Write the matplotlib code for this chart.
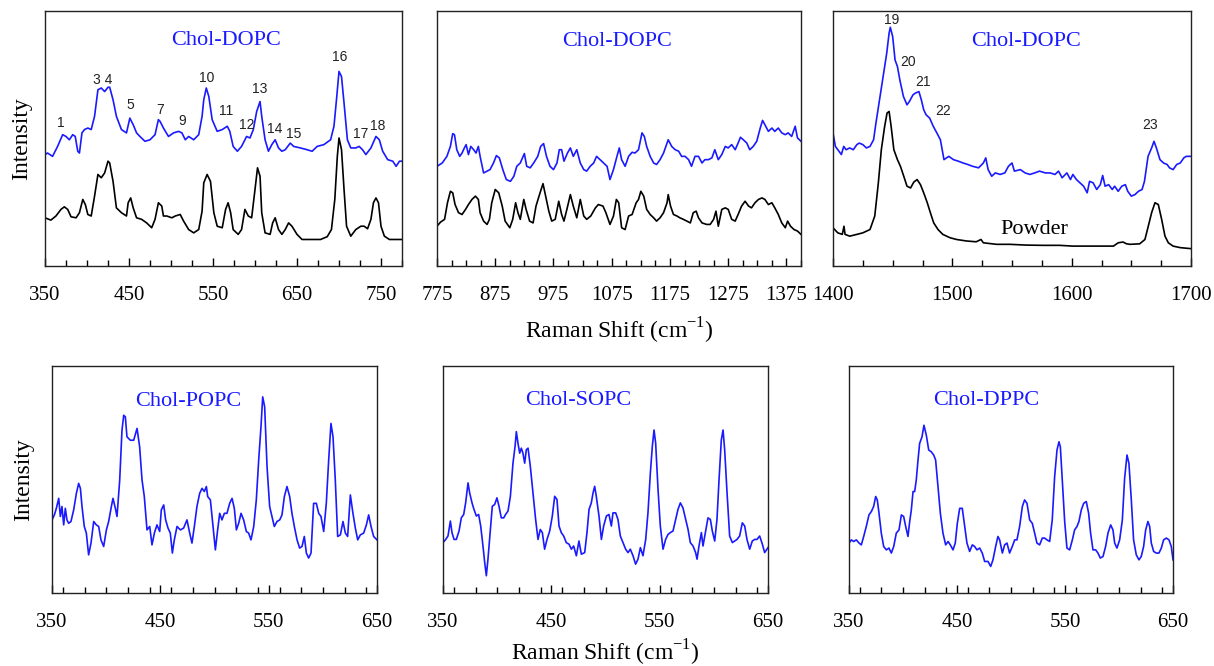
import matplotlib
matplotlib.use("Agg")
import matplotlib.pyplot as plt
from matplotlib.ticker import FixedLocator, MultipleLocator

# ---------------- data (intensity in arbitrary units, 0-100 per panel) ----------------
# Panel 1: Chol-DOPC (blue) and powder (black), 350-775 cm-1
p1_blue_x = [350, 353, 359, 365, 371, 375, 379, 383, 386, 389, 391, 394, 397, 401, 405, 409, 413, 417, 421, 425,
             427, 431, 435, 441, 447, 451, 455, 459, 463, 469, 475, 481, 485, 487, 491, 497, 503, 509, 513, 517,
             521, 527, 533, 537, 539, 542, 545, 549, 555, 561, 567, 570, 574, 579, 584, 590, 594, 598, 602, 606,
             608, 612, 616, 620, 624, 628, 632, 636, 642, 646, 654, 662, 668, 674, 682, 690, 694, 697, 700, 703,
             706, 710, 714, 720, 724, 728, 732, 738, 744, 748, 752, 758, 764, 768, 772, 775]
p1_blue_y = [43.7, 44.3, 43.0, 46.9, 51.5, 50.8, 49.5, 51.5, 50.8, 45.0, 44.3, 52.2, 53.5, 54.1, 53.5, 58.7, 69.1, 69.8, 68.4, 70.1,
             70.1, 65.2, 58.7, 53.5, 52.2, 58.0, 55.4, 52.2, 50.8, 48.9, 49.5, 51.5, 57.4, 56.7, 54.1, 50.8, 52.2, 52.8, 52.2, 49.5,
             50.8, 49.5, 51.5, 58.7, 65.2, 69.8, 66.5, 57.4, 52.8, 53.5, 54.8, 52.8, 46.9, 45.0, 46.9, 50.8, 50.2, 53.5, 60.6, 64.5,
             58.7, 49.5, 45.0, 47.6, 49.5, 46.3, 45.0, 45.6, 48.2, 46.9, 46.3, 45.6, 45.0, 46.9, 47.6, 49.5, 54.8, 65.2, 76.3, 74.3,
             63.9, 49.5, 46.3, 46.3, 46.9, 45.6, 43.7, 46.3, 50.8, 49.5, 45.0, 41.7, 41.1, 39.1, 41.1, 41.1]

p1_black_x = [350, 357, 363, 369, 373, 377, 381, 387, 391, 395, 398, 401, 405, 409, 413, 417, 421, 425, 427, 431,
              435, 441, 447, 449, 452, 455, 459, 465, 471, 477, 481, 485, 489, 491, 495, 501, 505, 511, 515, 521,
              527, 533, 537, 539, 543, 547, 551, 555, 561, 565, 568, 571, 574, 580, 584, 588, 592, 596, 600, 603,
              606, 608, 612, 618, 621, 624, 628, 632, 636, 640, 644, 650, 656, 666, 678, 686, 691, 695, 698, 700,
              703, 706, 709, 714, 720, 726, 730, 734, 738, 741, 744, 747, 750, 754, 760, 775]
p1_black_y = [18.9, 18.0, 19.6, 22.2, 23.2, 22.2, 19.3, 18.9, 20.9, 26.1, 24.1, 20.2, 19.6, 27.4, 35.9, 34.6, 36.5, 41.1, 40.4, 33.2,
              22.8, 20.9, 19.6, 24.8, 26.7, 22.8, 18.9, 18.3, 16.9, 15.0, 18.3, 24.8, 23.5, 19.6, 19.6, 18.9, 19.6, 20.2, 17.6, 14.3,
              13.0, 14.3, 21.5, 32.6, 35.9, 33.2, 20.9, 15.6, 15.0, 22.2, 24.8, 20.9, 14.3, 12.4, 14.3, 22.2, 19.6, 18.9, 30.0, 38.5,
              35.2, 20.9, 13.0, 12.4, 16.9, 18.9, 14.3, 12.4, 14.3, 16.9, 15.6, 12.4, 10.4, 10.4, 10.4, 11.5, 14.3, 26.1, 43.0, 50.2,
              45.6, 30.0, 15.6, 11.7, 14.3, 15.6, 15.6, 14.6, 18.3, 24.8, 26.7, 24.8, 15.6, 11.7, 10.4, 10.4]

p1_labels = ["1", "3 4", "5", "7", "9", "10", "11", "12", "13", "14", "15", "16", "17", "18"]
p1_label_x = [369, 419, 452, 487, 513, 543, 566, 590, 605, 623, 646, 701, 726, 746]
p1_label_y = [56.1, 73.0, 63.2, 61.3, 56.7, 73.7, 60.9, 55.1, 69.4, 53.8, 51.8, 81.9, 51.8, 54.8]

# Panel 2: 775-1400 cm-1
p2_blue_x = [775, 784, 792, 798, 802, 805, 809, 814, 818, 822, 825, 829, 833, 838, 842, 846, 849, 855, 861, 866,
             872, 877, 882, 888, 894, 901, 907, 912, 918, 925, 929, 935, 941, 948, 953, 958, 963, 969, 975, 981,
             985, 989, 993, 999, 1004, 1009, 1015, 1021, 1027, 1032, 1038, 1044, 1049, 1055, 1061, 1067, 1072, 1078, 1084, 1088,
             1092, 1098, 1104, 1110, 1115, 1121, 1127, 1131, 1135, 1141, 1147, 1152, 1158, 1164, 1172, 1178, 1184, 1190, 1195, 1201,
             1207, 1212, 1218, 1224, 1230, 1235, 1241, 1247, 1252, 1258, 1264, 1270, 1275, 1281, 1287, 1292, 1296, 1301, 1307, 1312,
             1318, 1324, 1330, 1334, 1338, 1344, 1350, 1355, 1361, 1367, 1373, 1378, 1384, 1390, 1394, 1400]
p2_blue_y = [39.1, 40.4, 43.0, 46.9, 51.9, 51.5, 45.6, 43.0, 44.3, 46.3, 47.6, 43.7, 46.9, 45.6, 44.3, 46.9, 43.0, 36.5, 37.2, 37.8,
             40.4, 43.3, 42.4, 37.8, 33.9, 33.2, 35.2, 39.1, 40.4, 44.1, 39.1, 38.5, 40.4, 43.0, 46.9, 48.0, 43.0, 39.1, 37.8, 40.4,
             45.6, 45.6, 41.1, 44.3, 46.3, 43.0, 45.6, 40.4, 37.8, 37.2, 39.1, 40.4, 43.0, 41.7, 40.4, 39.1, 33.9, 37.8, 43.0, 46.3,
             41.7, 39.1, 43.0, 44.6, 44.3, 45.6, 52.2, 50.8, 46.9, 43.0, 40.4, 39.8, 41.7, 44.3, 49.5, 46.9, 45.6, 45.0, 43.0, 43.0,
             41.7, 39.1, 43.0, 43.0, 40.4, 41.7, 41.7, 42.4, 45.6, 41.7, 43.7, 46.9, 46.3, 47.6, 45.6, 48.2, 50.5, 49.5, 48.2, 45.6,
             46.9, 48.9, 54.1, 57.1, 55.4, 52.8, 54.1, 52.8, 54.1, 52.2, 51.5, 52.2, 50.8, 54.8, 50.2, 48.9]

p2_black_x = [775, 781, 788, 793, 798, 802, 806, 812, 818, 824, 829, 835, 841, 846, 849, 855, 861, 865, 869, 875,
              881, 887, 892, 900, 905, 910, 914, 918, 924, 928, 934, 940, 945, 951, 957, 961, 967, 972, 978, 984,
              989, 993, 998, 1004, 1009, 1015, 1021, 1027, 1032, 1039, 1047, 1052, 1060, 1065, 1072, 1078, 1083, 1087, 1092, 1098,
              1104, 1110, 1117, 1121, 1125, 1130, 1135, 1141, 1147, 1152, 1158, 1164, 1170, 1172, 1176, 1181, 1187, 1192, 1198, 1204,
              1210, 1215, 1220, 1224, 1230, 1238, 1244, 1250, 1254, 1258, 1264, 1270, 1275, 1281, 1287, 1292, 1298, 1304, 1310, 1315,
              1321, 1327, 1333, 1338, 1344, 1350, 1355, 1361, 1367, 1373, 1377, 1382, 1388, 1394, 1400]
p2_black_y = [15.6, 17.2, 18.3, 24.8, 29.3, 28.7, 24.1, 20.9, 20.2, 22.2, 24.1, 26.1, 27.4, 26.1, 20.9, 17.6, 16.3, 18.3, 24.8, 30.0,
              28.7, 23.5, 17.6, 15.0, 18.3, 24.8, 20.9, 18.3, 26.1, 22.2, 17.6, 16.9, 23.5, 28.0, 32.3, 28.0, 21.5, 17.6, 18.3, 25.4,
              20.2, 17.6, 22.2, 28.0, 23.5, 18.9, 26.1, 19.6, 18.3, 19.6, 22.8, 24.1, 23.5, 20.9, 16.3, 19.6, 26.1, 24.8, 15.0, 14.3,
              19.6, 20.2, 24.8, 26.1, 29.3, 27.4, 22.2, 20.2, 18.9, 17.6, 18.9, 20.9, 24.8, 28.0, 23.5, 20.2, 19.6, 18.9, 18.3, 17.6,
              16.9, 20.9, 21.5, 18.9, 16.9, 16.3, 16.3, 18.3, 21.5, 15.6, 22.2, 22.8, 22.2, 18.3, 17.6, 20.2, 23.5, 25.4, 23.5, 22.8,
              24.8, 26.1, 26.7, 26.1, 24.1, 24.8, 22.8, 20.2, 16.9, 15.0, 17.6, 15.6, 14.3, 13.7, 12.4]

# Panel 3: 1400-1700 cm-1
p3_blue_x = [1400, 1402, 1405, 1407, 1409, 1411, 1414, 1417, 1420, 1422, 1425, 1428, 1431, 1434, 1436, 1439, 1442, 1445, 1447, 1448,
             1450, 1452, 1454, 1456, 1459, 1462, 1464, 1467, 1469, 1472, 1474, 1476, 1478, 1481, 1484, 1487, 1490, 1492, 1493, 1497,
             1501, 1505, 1509, 1513, 1517, 1522, 1526, 1528, 1530, 1533, 1536, 1540, 1544, 1547, 1550, 1552, 1557, 1561, 1565, 1569,
             1573, 1578, 1582, 1586, 1589, 1592, 1596, 1599, 1601, 1604, 1607, 1610, 1613, 1615, 1618, 1621, 1624, 1626, 1628, 1631,
             1634, 1636, 1639, 1642, 1645, 1647, 1650, 1653, 1656, 1659, 1661, 1664, 1667, 1669, 1671, 1674, 1677, 1680, 1682, 1685,
             1688, 1691, 1694, 1696, 1700]
p3_blue_y = [52.2, 46.9, 45.0, 43.7, 46.9, 45.6, 46.3, 45.6, 47.6, 48.2, 47.6, 46.3, 46.9, 49.5, 56.1, 65.2, 74.3, 83.4, 91.3, 93.6,
             90.0, 80.8, 78.2, 73.0, 66.5, 63.2, 64.5, 67.1, 67.8, 68.4, 65.2, 61.3, 59.3, 58.0, 54.8, 52.2, 49.5, 44.3, 41.7, 43.0,
             41.7, 41.1, 40.4, 39.8, 39.1, 38.5, 40.4, 42.4, 37.8, 35.2, 36.5, 35.9, 36.5, 39.1, 40.4, 37.2, 37.8, 36.5, 35.9, 36.5,
             37.2, 36.5, 36.5, 35.9, 37.2, 34.6, 36.5, 33.9, 35.9, 33.9, 32.6, 31.3, 28.7, 33.2, 32.6, 30.0, 31.9, 35.5, 31.3, 31.9,
             30.0, 31.3, 29.3, 31.3, 31.9, 29.3, 27.4, 28.0, 29.3, 30.0, 33.2, 43.0, 46.3, 48.9, 46.3, 41.7, 40.4, 39.8, 38.5, 37.8,
             39.8, 40.4, 42.4, 43.0, 43.0]

p3_black_x = [1400, 1404, 1407.8, 1409.2, 1410.1, 1414, 1420, 1425, 1431, 1435, 1438, 1440.5, 1443.3, 1445.3, 1447, 1448.7, 1451, 1454, 1456.5, 1459.3,
              1462, 1465, 1467.7, 1470.5, 1473.3, 1476, 1479, 1481.6, 1484.4, 1488, 1492, 1498, 1503.5, 1512, 1520, 1524, 1526, 1537, 1548, 1562,
              1576, 1590, 1601, 1610, 1626, 1635, 1639, 1643, 1646, 1649, 1657, 1661.4, 1664.2, 1667, 1669.8, 1672.6, 1675.4, 1678.2, 1681, 1685,
              1691, 1700]
p3_black_y = [15.0, 13.0, 12.4, 15.6, 12.4, 11.7, 12.4, 13.0, 14.3, 19.6, 32.6, 45.6, 54.8, 60.0, 60.6, 54.8, 45.6, 41.7, 39.1, 35.2,
              31.3, 30.6, 32.9, 33.9, 31.9, 28.7, 24.8, 20.9, 16.9, 14.3, 12.4, 11.1, 10.4, 9.8, 9.5, 10.4, 9.1, 8.5, 8.5, 8.2,
              8.1, 8.1, 7.8, 7.8, 7.8, 7.8, 9.1, 9.4, 8.7, 8.5, 8.7, 10.4, 15.6, 20.9, 24.8, 24.1, 18.3, 11.7, 9.1, 7.8,
              7.2, 6.8]

p3_labels = ["19", "20", "21", "22", "23"]
p3_label_x = [1449, 1463, 1475, 1492, 1666]
p3_label_y = [96.5, 79.9, 72.0, 60.9, 55.4]

# Panel 4: Chol-POPC, 350-650 cm-1
popc_x = [350, 352.2, 354, 356.2, 357.7, 359.2, 360.8, 362.3, 363.8, 365.4, 367.5, 370, 372.5, 374.6, 376.2, 377.7, 379.8, 381.7, 383.8, 386,
          388.5, 390.9, 393.1, 395.2, 397.7, 400.2, 402.3, 404.8, 406.3, 408.5, 410, 412.5, 414.6, 416.2, 417.7, 419.2, 422.3, 425.4, 428.5, 430.9,
          433.1, 435.2, 437.7, 440.2, 442.3, 444.5, 446.9, 449.4, 450.9, 453.1, 454.9, 457.1, 459.2, 461.1, 462.9, 465.4, 468.5, 471.5, 474.6, 477.1,
          479.2, 481.4, 483.8, 486.3, 488.5, 490.6, 492.5, 493.7, 496.2, 498.6, 500.8, 502.9, 504.8, 506.9, 509.1, 511.5, 514, 516.2, 518.3, 520.2,
          522.3, 524.5, 526.9, 529.4, 531.5, 533.7, 536.2, 538.6, 540.8, 542.9, 544.5, 546.3, 548.5, 550.9, 553.1, 555.2, 557.7, 560.2, 562.3, 564.5,
          566.9, 569.4, 571.5, 573.7, 576.2, 578.6, 580.8, 582.9, 584.8, 586.9, 589.1, 591.5, 594, 596.2, 598.3, 600.8, 603.2, 605.4, 607.5, 609.4,
          611.5, 613.7, 616.2, 618.6, 620.8, 622.9, 625.4, 627.8, 630, 632.2, 634.6, 637.7, 640.2, 642.3, 644.5, 646.9, 650]
popc_y = [32.2, 34.4, 37.3, 41.7, 33.7, 38.1, 30.0, 37.3, 32.2, 30.7, 31.5, 36.6, 43.9, 48.3, 46.1, 38.1, 29.3, 26.4, 16.8, 22.0,
          31.5, 30.0, 29.3, 23.4, 20.5, 27.8, 31.5, 38.1, 41.7, 37.3, 33.7, 49.8, 71.7, 78.3, 77.6, 68.8, 67.3, 67.3, 72.5, 64.4,
          49.8, 42.5, 27.8, 29.3, 21.2, 26.4, 30.0, 27.1, 36.6, 38.8, 32.2, 28.6, 26.4, 17.6, 23.4, 29.3, 27.8, 28.6, 32.2, 26.4,
          22.0, 29.3, 38.1, 43.9, 46.1, 44.7, 46.9, 42.5, 41.0, 29.3, 19.0, 27.8, 35.1, 32.2, 35.1, 35.1, 39.5, 41.7, 37.3, 27.8,
          30.7, 35.1, 32.2, 27.1, 26.4, 23.4, 29.3, 41.0, 58.6, 73.2, 86.4, 82.0, 55.6, 38.1, 33.7, 29.3, 31.5, 32.2, 34.4, 42.5,
          46.9, 42.5, 35.1, 29.3, 23.4, 19.8, 20.5, 24.9, 17.6, 15.4, 17.6, 39.5, 39.5, 35.1, 33.7, 27.1, 39.5, 58.6, 74.7, 68.8,
          49.8, 24.9, 25.6, 31.5, 26.4, 24.9, 43.2, 35.1, 28.6, 23.4, 25.6, 26.4, 30.0, 34.4, 29.3, 24.9, 23.4]

# Panel 5: Chol-SOPC
sopc_x = [350, 352.5, 354.6, 356.8, 358.3, 360.2, 362.3, 364.8, 366.9, 369.1, 370.9, 373.1, 374.6, 376.8, 378.6, 380.8, 382.9, 384.8, 386.9, 388.5,
          390, 391.5, 393.7, 395.5, 397.7, 399.8, 401.7, 403.8, 406, 407.8, 410, 412.2, 414.6, 416.5, 417.7, 419.2, 420.8, 422.3, 423.8, 425.4,
          426.9, 428.5, 430.6, 433.1, 435.5, 437.7, 439.8, 441.7, 443.8, 446, 448.5, 450.9, 453.1, 455.2, 457.1, 459.2, 461.4, 463.8, 466.3, 468.5,
          470.6, 473.1, 475.5, 477.7, 480.8, 482.9, 484.8, 486.9, 488.5, 490, 491.5, 494, 496.2, 498.3, 500.8, 503.2, 505.4, 506.9, 509.4, 511.5,
          513.7, 516.2, 518.6, 520.8, 522.9, 525.4, 527.8, 530, 532.2, 534.6, 537.1, 539.2, 541.4, 543.2, 544.8, 546.3, 548.5, 550.6, 553.1, 555.5,
          557.7, 559.8, 562.3, 564.8, 566.9, 569.1, 571.5, 574, 576.2, 578.3, 580.8, 583.2, 584.5, 586.3, 588.5, 590, 592.5, 594.6, 596.8, 598.6,
          600.8, 602.9, 604.8, 606.9, 608.5, 610, 612.2, 614.6, 617.1, 619.2, 621.4, 623.8, 626.3, 628.5, 630.6, 633.1, 635.5, 637.7, 639.8, 642.3,
          644.8, 646.9, 650]
sopc_y = [22.2, 23.6, 25.1, 31.7, 26.6, 23.6, 23.6, 27.3, 33.1, 34.6, 39.7, 48.5, 44.1, 39.7, 36.8, 33.9, 34.6, 29.5, 20.7, 13.4,
          7.6, 14.9, 28.0, 38.2, 39.0, 41.9, 38.2, 33.1, 33.1, 34.6, 36.1, 42.6, 57.2, 64.5, 71.1, 66.0, 61.6, 63.8, 61.6, 57.2,
          63.1, 63.8, 55.8, 44.1, 32.4, 23.6, 28.0, 26.6, 19.3, 23.6, 27.3, 33.9, 42.6, 41.2, 29.5, 26.6, 25.1, 22.2, 21.5, 19.3,
          20.7, 16.4, 22.9, 17.1, 17.8, 26.6, 36.8, 39.7, 44.1, 47.0, 42.6, 33.9, 23.6, 29.5, 33.9, 34.6, 29.5, 35.3, 35.3, 32.4,
          25.1, 22.2, 19.3, 17.8, 19.3, 16.4, 12.7, 14.9, 20.0, 16.4, 23.6, 35.3, 52.8, 64.5, 71.8, 66.0, 45.5, 29.5, 19.3, 23.6,
          25.8, 26.6, 27.3, 32.4, 36.8, 39.7, 37.5, 32.4, 28.0, 22.2, 20.7, 17.8, 14.9, 20.7, 26.6, 20.7, 27.3, 33.1, 32.4, 27.3,
          22.9, 32.4, 49.9, 67.4, 71.8, 63.1, 44.1, 25.1, 22.2, 22.9, 23.6, 25.1, 30.9, 29.5, 23.6, 19.3, 22.9, 23.6, 23.6, 25.1,
          21.5, 17.8, 20.0]

# Panel 6: Chol-DPPC
dppc_x = [350, 352.2, 354.3, 356.8, 359.3, 361.4, 363.6, 366, 368.5, 370.7, 372.8, 374.7, 376.2, 377.8, 379.9, 382.1, 384.6, 387, 389.2, 391.4,
          393.8, 396.3, 398.5, 400.6, 402.5, 404.6, 406.2, 407.7, 409.3, 410.8, 412.3, 413.9, 415.4, 417.6, 419.4, 421.6, 423.8, 426.2, 428.4, 430.2,
          432.4, 434.6, 437, 439.5, 441.7, 443.8, 446.3, 448.4, 450.3, 452.5, 454.9, 457.1, 459.2, 461.7, 464.2, 466.3, 468.5, 471, 473.4, 475.6,
          478.7, 481.2, 483.3, 485.8, 487.9, 489.5, 492, 494.1, 496.3, 498.7, 501.2, 503.4, 505.5, 508, 510.5, 512.6, 514.8, 517.3, 519.7, 521.9,
          524, 526.5, 529, 531.1, 533.3, 535.8, 538.2, 540.4, 542.6, 544.4, 545.7, 547.5, 549.7, 551.8, 554.3, 556.8, 558.9, 561.1, 562.9, 565.1,
          567.3, 569.7, 571.9, 573.7, 575.9, 578.4, 580.5, 582.7, 585.2, 587.6, 589.8, 592.3, 594.4, 596, 598.1, 600.6, 603.1, 605.2, 607.4, 609.2,
          611.4, 613.5, 616, 618.5, 620.6, 622.8, 624.7, 626.8, 628.4, 629.9, 632.1, 634.5, 637, 639.2, 641.3, 643.8, 646.3, 648.4, 650]
dppc_y = [22.0, 23.4, 22.7, 23.4, 22.0, 21.2, 24.9, 29.3, 34.4, 35.9, 38.1, 42.5, 41.0, 35.1, 26.4, 20.5, 19.0, 19.8, 17.6, 20.5,
          26.4, 27.8, 34.4, 33.7, 29.3, 24.9, 31.5, 36.6, 44.7, 44.7, 49.8, 58.6, 65.9, 68.8, 73.9, 69.5, 63.0, 62.2, 60.8, 58.6,
          46.9, 35.1, 26.4, 21.2, 22.7, 21.2, 19.0, 22.0, 30.7, 37.3, 37.3, 29.3, 22.0, 18.3, 21.2, 20.5, 19.0, 19.8, 17.6, 13.9,
          13.9, 11.7, 14.6, 20.5, 24.9, 23.4, 17.6, 21.2, 22.0, 17.6, 20.5, 23.4, 23.4, 29.3, 38.1, 41.0, 39.5, 32.2, 30.7, 26.4,
          22.0, 21.2, 24.2, 24.2, 23.4, 22.7, 32.2, 51.2, 63.0, 66.6, 64.4, 49.8, 31.5, 19.8, 19.0, 23.4, 27.8, 29.3, 31.5, 36.6,
          39.5, 40.3, 35.1, 26.4, 19.0, 19.0, 17.6, 15.4, 16.1, 20.5, 26.4, 30.0, 27.8, 22.0, 19.8, 23.4, 32.2, 50.5, 60.8, 57.1,
          41.0, 23.4, 16.8, 14.6, 16.1, 20.5, 27.8, 31.5, 29.3, 22.0, 18.3, 17.6, 17.6, 19.8, 23.4, 24.2, 23.4, 20.5, 14.6]

top_xticks = [[350, 450, 550, 650, 750],
              [775, 875, 975, 1075, 1175, 1275, 1375],
              [1400, 1500, 1600, 1700]]
bottom_xticks = [350, 450, 550, 650]

# ---------------- styling ----------------
SERIF = ['Liberation Serif', 'DejaVu Serif']
SANS = ['Liberation Sans', 'DejaVu Sans']
plt.rcParams['font.family'] = SERIF
plt.rcParams['mathtext.fontset'] = 'custom'
plt.rcParams['mathtext.rm'] = 'Liberation Serif'
BLUE = '#1a1aff'
LW = 1.2
TICK_FS = 15
TITLE_FS = 16
LABEL_FS = 17
XLABEL = r'Raman Shift (cm$^{\mathregular{-1}}$)'

fig = plt.figure(figsize=(12.14, 6.66), dpi=100)
W, H = 1214.0, 666.0


def make_ax(left, right, top, bottom):
    return fig.add_axes([left / W, 1 - bottom / H, (right - left) / W, (bottom - top) / H])


def style(ax, xlim, majors, minor_step):
    ax.set_xlim(*xlim)
    ax.set_ylim(0, 100)
    ax.xaxis.set_major_locator(FixedLocator(majors))
    ax.xaxis.set_minor_locator(MultipleLocator(minor_step))
    ax.set_yticks([])
    ax.tick_params(axis='x', which='major', direction='in', length=6, width=1.0,
                   labelsize=TICK_FS, pad=14.5)
    ax.tick_params(axis='x', which='minor', direction='in', length=4, width=1.0)
    for s in ax.spines.values():
        s.set_linewidth(1.0)
        s.set_color('#222222')


ax1 = make_ax(45, 402, 11, 266)
ax2 = make_ax(437, 801, 11, 266)
ax3 = make_ax(833, 1191, 11, 266)
ax4 = make_ax(52, 377, 366, 593)
ax5 = make_ax(443, 768, 366, 593)
ax6 = make_ax(849, 1173, 366, 593)

# Top row
ax1.plot(p1_blue_x, p1_blue_y, color=BLUE, lw=LW)
ax1.plot(p1_black_x, p1_black_y, color='black', lw=LW)
for t, x, y in zip(p1_labels, p1_label_x, p1_label_y):
    ax1.text(x, y, t, family=SANS, fontsize=10, color='#222222', ha='center', va='center')
ax1.text(566, 88.3, 'Chol-DOPC', color=BLUE, fontsize=TITLE_FS, ha='center', va='center')
style(ax1, (350, 775), top_xticks[0], 25)
ax1.set_ylabel('Intensity', fontsize=LABEL_FS, labelpad=9)

ax2.plot(p2_blue_x, p2_blue_y, color=BLUE, lw=LW)
ax2.plot(p2_black_x, p2_black_y, color='black', lw=LW)
ax2.text(1084, 88.0, 'Chol-DOPC', color=BLUE, fontsize=TITLE_FS, ha='center', va='center')
style(ax2, (775, 1400), top_xticks[1], 25)
ax2.set_xlabel(XLABEL, fontsize=LABEL_FS, labelpad=8)

ax3.plot(p3_blue_x, p3_blue_y, color=BLUE, lw=LW)
ax3.plot(p3_black_x, p3_black_y, color='black', lw=LW)
for t, x, y in zip(p3_labels, p3_label_x, p3_label_y):
    ax3.text(x, y, t, family=SANS, fontsize=10, color='#222222', ha='center', va='center')
ax3.text(1562, 88.0, 'Chol-DOPC', color=BLUE, fontsize=TITLE_FS, ha='center', va='center')
ax3.text(1569, 14.3, 'Powder', color='black', fontsize=TITLE_FS, ha='center', va='center')
style(ax3, (1400, 1700), top_xticks[2], 25)

# Bottom row
ax4.plot(popc_x, popc_y, color=BLUE, lw=LW)
ax4.text(476, 84.5, 'Chol-POPC', color=BLUE, fontsize=TITLE_FS, ha='center', va='center')
style(ax4, (350, 650), bottom_xticks, 20)
ax4.set_ylabel('Intensity', fontsize=LABEL_FS, labelpad=13)

ax5.plot(sopc_x, sopc_y, color=BLUE, lw=LW)
ax5.text(474.6, 85.0, 'Chol-SOPC', color=BLUE, fontsize=TITLE_FS, ha='center', va='center')
style(ax5, (350, 650), bottom_xticks, 20)
ax5.set_xlabel(XLABEL, fontsize=LABEL_FS, labelpad=4)

ax6.plot(dppc_x, dppc_y, color=BLUE, lw=LW)
ax6.text(477.1, 84.9, 'Chol-DPPC', color=BLUE, fontsize=TITLE_FS, ha='center', va='center')
style(ax6, (350, 650), bottom_xticks, 20)

fig.savefig('out.png', dpi=100)
